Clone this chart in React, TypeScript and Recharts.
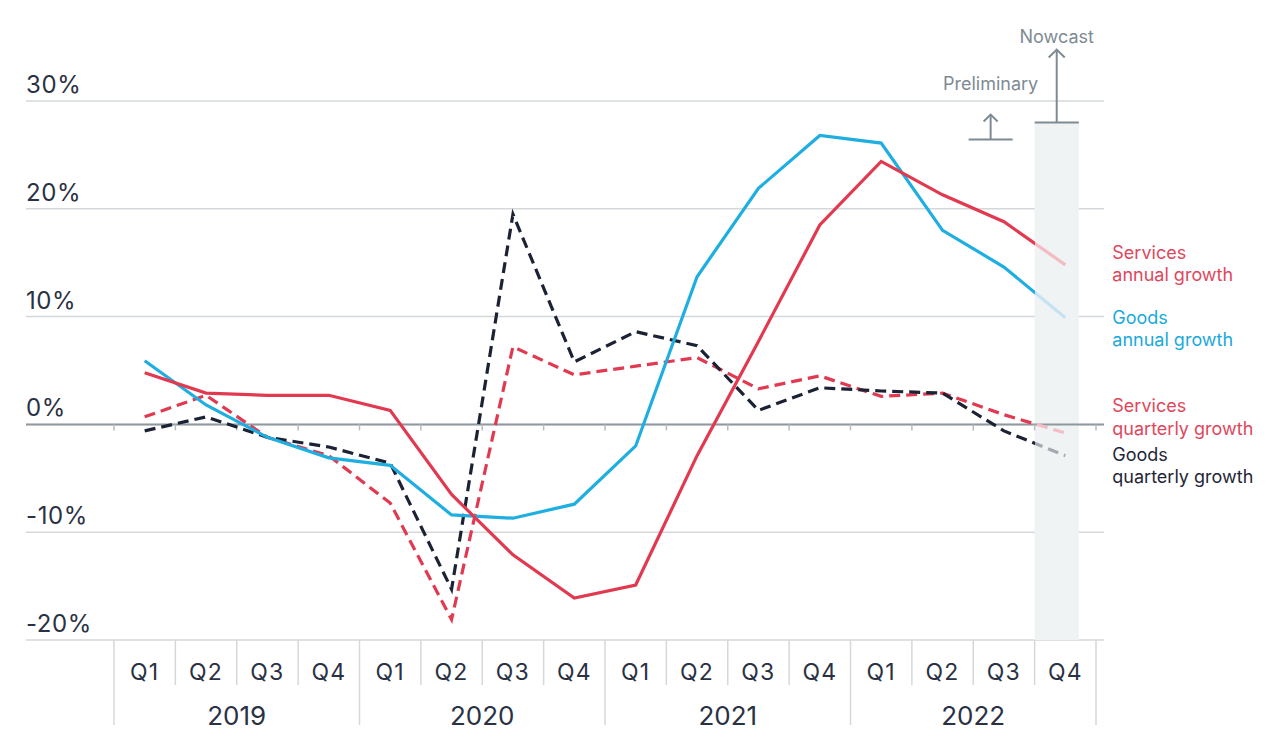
import { LineChart, Line, XAxis, YAxis, CartesianGrid, ReferenceLine, ReferenceArea, LabelList } from 'recharts';

const quarterNames = ['Q1', 'Q2', 'Q3', 'Q4'];
const yearNames = ['2019', '2020', '2021', '2022'];
const yTicks = [-20, -10, 0, 10, 20, 30];

const servicesAnnual = [4.8, 2.9, 2.7, 2.7, 1.3, -6.5, -12.1, -16.1, -14.9, -2.9, 7.7, 18.5, 24.4, 21.3, 18.8, 14.8];
const goodsAnnual = [5.9, 1.8, -1.2, -3.1, -3.8, -8.4, -8.7, -7.4, -2.0, 13.7, 21.9, 26.8, 26.1, 18.0, 14.6, 9.9];
const servicesQuarterly = [0.7, 2.7, -1.2, -2.9, -7.3, -18.1, 7.2, 4.6, 5.4, 6.2, 3.3, 4.5, 2.6, 2.9, 0.9, -0.8];
const goodsQuarterly = [-0.6, 0.7, -1.2, -2.1, -3.6, -15.3, 19.5, 5.8, 8.6, 7.3, 1.3, 3.4, 3.1, 2.9, -0.6, -2.9];

const nowcastTop = 28;

const data = yearNames.flatMap((yr, yi) =>
  quarterNames.map((q, qi) => {
    const i = yi * 4 + qi;
    return {
      key: `${q} ${yr}`,
      quarter: q,
      year: yr,
      servicesAnnual: servicesAnnual[i],
      goodsAnnual: goodsAnnual[i],
      servicesQuarterly: servicesQuarterly[i],
      goodsQuarterly: goodsQuarterly[i],
    };
  })
);

const last = data.length - 1;
const fadeAt = (last - 0.5) / last;

const RED = '#e13a50';
const BLUE = '#1eaee0';
const NAVY = '#1b2234';
const GRID = '#d4d8da';
const TEXT = '#2a3143';
const NOTE = '#7e8b94';
const FONT = 'Inter, "Noto Sans", sans-serif';

// gridlines run a bit past the category range on both sides
const GRID_LEFT = 88;
const GRID_RIGHT = 8;

const series = [
  { key: 'servicesQuarterly', color: RED, faded: '#f4bcc4', dashed: true, label: ['Services', 'quarterly growth'], text: '#e0475c', dy: -21 },
  { key: 'goodsQuarterly', color: NAVY, faded: '#a5aab0', dashed: true, label: ['Goods', 'quarterly growth'], text: '#1f2638', dy: 5 },
  { key: 'goodsAnnual', color: BLUE, faded: '#c6e2f2', dashed: false, label: ['Goods', 'annual growth'], text: '#1aa9dc', dy: 6 },
  { key: 'servicesAnnual', color: RED, faded: '#f2bcc2', dashed: false, label: ['Services', 'annual growth'], text: '#e0475c', dy: -6 },
];

const YTick = ({ x, y, payload }: any) => (
  <text x={x - GRID_LEFT} y={y - 8} fill={TEXT} fontSize={24} letterSpacing={0.6} fontFamily={FONT} textAnchor="start">
    {`${payload.value}%`}
  </text>
);

const XTick = ({ x, y, payload, index }: any) => {
  const bw = payload.offset ? payload.offset * 2 : 61.4;
  const left = x - bw / 2;
  const d = data[index];
  const yearEdge = index % 4 === 0;
  return (
    <g>
      <line x1={left} x2={left} y1={y} y2={y + (yearEdge ? 85 : 45)} stroke={GRID} strokeWidth={1.5} />
      {index === last && <line x1={x + bw / 2} x2={x + bw / 2} y1={y} y2={y + 85} stroke={GRID} strokeWidth={1.5} />}
      <text x={x} y={y + 40} fill={TEXT} fontSize={23} letterSpacing={1.2} fontFamily={FONT} textAnchor="middle">
        {d.quarter}
      </text>
      {index % 4 === 2 && (
        <text x={left} y={y + 85} fill={TEXT} fontSize={26} fontFamily={FONT} textAnchor="middle">
          {d.year}
        </text>
      )}
    </g>
  );
};

const ZeroLine = ({ x1, x2, y1 }: any) => {
  const bw = (x2 - x1) / data.length;
  return (
    <g>
      <line x1={x1 - GRID_LEFT} x2={x2 + GRID_RIGHT} y1={y1} y2={y1} stroke="#8e989e" strokeWidth={2} />
      {data.concat(data[last]).map((d, i) => (
        <line key={i} x1={x1 + i * bw} x2={x1 + i * bw} y1={y1} y2={y1 + 6} stroke="#b6bcc0" strokeWidth={1.5} />
      ))}
    </g>
  );
};

// shaded nowcast column covers the left part of the Q4 2022 band
const NowcastBand = ({ x, y, width, height }: any) => {
  const w = width * 0.72;
  const cx = x + w / 2;
  const px = x - 44;
  return (
    <g>
      <rect x={x} y={y} width={w} height={Math.abs(height)} fill="#eff3f4" />
      <line x1={x} x2={x + w} y1={y} y2={y} stroke={NOTE} strokeWidth={2} />
      <line x1={cx} x2={cx} y1={y} y2={y - 73} stroke={NOTE} strokeWidth={2} />
      <polyline points={`${cx - 8},${y - 65} ${cx},${y - 73} ${cx + 8},${y - 65}`} fill="none" stroke={NOTE} strokeWidth={2} />
      <text x={cx} y={y - 80} fill={NOTE} fontSize={18} fontFamily={FONT} textAnchor="middle">
        Nowcast
      </text>
      <line x1={px - 22} x2={px + 22} y1={y + 17} y2={y + 17} stroke={NOTE} strokeWidth={2} />
      <line x1={px} x2={px} y1={y + 17} y2={y - 8} stroke={NOTE} strokeWidth={2} />
      <polyline points={`${px - 7},${y - 1} ${px},${y - 8} ${px + 7},${y - 1}`} fill="none" stroke={NOTE} strokeWidth={2} />
      <text x={px} y={y - 33} fill={NOTE} fontSize={18} fontFamily={FONT} textAnchor="middle">
        Preliminary
      </text>
    </g>
  );
};

const endLabel = (s: (typeof series)[number]) => (props: any) => {
  if (props.index !== last) return null;
  const px = props.x ?? props.viewBox?.x;
  const py = props.y ?? props.viewBox?.y;
  return (
    <text x={px + 47} y={py + s.dy} fill={s.text} fontSize={18} fontFamily={FONT}>
      <tspan x={px + 47}>{s.label[0]}</tspan>
      <tspan x={px + 47} dy={22.5}>
        {s.label[1]}
      </tspan>
    </text>
  );
};

export default function App() {
  return (
    <div style={{ position: 'absolute', left: 0, top: 0, width: 1280, height: 755, background: '#fff' }}>
      <svg width={0} height={0} style={{ position: 'absolute' }}>
        <defs>
          {series.map((s) => (
            <linearGradient key={s.key} id={`fade-${s.key}`} x1="0" y1="0" x2="1" y2="0">
              <stop offset={0} stopColor={s.color} />
              <stop offset={fadeAt} stopColor={s.color} />
              <stop offset={fadeAt} stopColor={s.faded} />
              <stop offset={1} stopColor={s.faded} />
            </linearGradient>
          ))}
        </defs>
      </svg>
      <LineChart width={1280} height={755} data={data} margin={{ top: 101, right: 184, bottom: 0, left: 26 }}>
        <CartesianGrid vertical={false} stroke={GRID} strokeWidth={1.5} x={114 - GRID_LEFT} width={1096 - 114 + GRID_LEFT + GRID_RIGHT} />
        <ReferenceArea
          x1="Q4 2022"
          x2="Q4 2022"
          y1={-20}
          y2={nowcastTop}
          ifOverflow="visible"
          shape={NowcastBand}
        />
        <XAxis
          dataKey="key"
          scale="band"
          interval={0}
          height={115}
          tickLine={false}
          tickSize={0}
          tickMargin={0}
          axisLine={false}
          tick={XTick}
        />
        <YAxis
          width={GRID_LEFT}
          domain={[-20, 30]}
          ticks={yTicks}
          axisLine={false}
          tickLine={false}
          tickSize={0}
          tickMargin={0}
          tick={YTick}
        />
        <ReferenceLine y={0} ifOverflow="visible" shape={ZeroLine} />
        {series.map((s) => (
          <Line
            key={s.key}
            type="linear"
            dataKey={s.key}
            stroke={`url(#fade-${s.key})`}
            strokeWidth={3.2}
            strokeDasharray={s.dashed ? '11 6' : undefined}
            dot={false}
            activeDot={false}
            isAnimationActive={false}
          >
            <LabelList dataKey={s.key} content={endLabel(s)} />
          </Line>
        ))}
      </LineChart>
    </div>
  );
}
